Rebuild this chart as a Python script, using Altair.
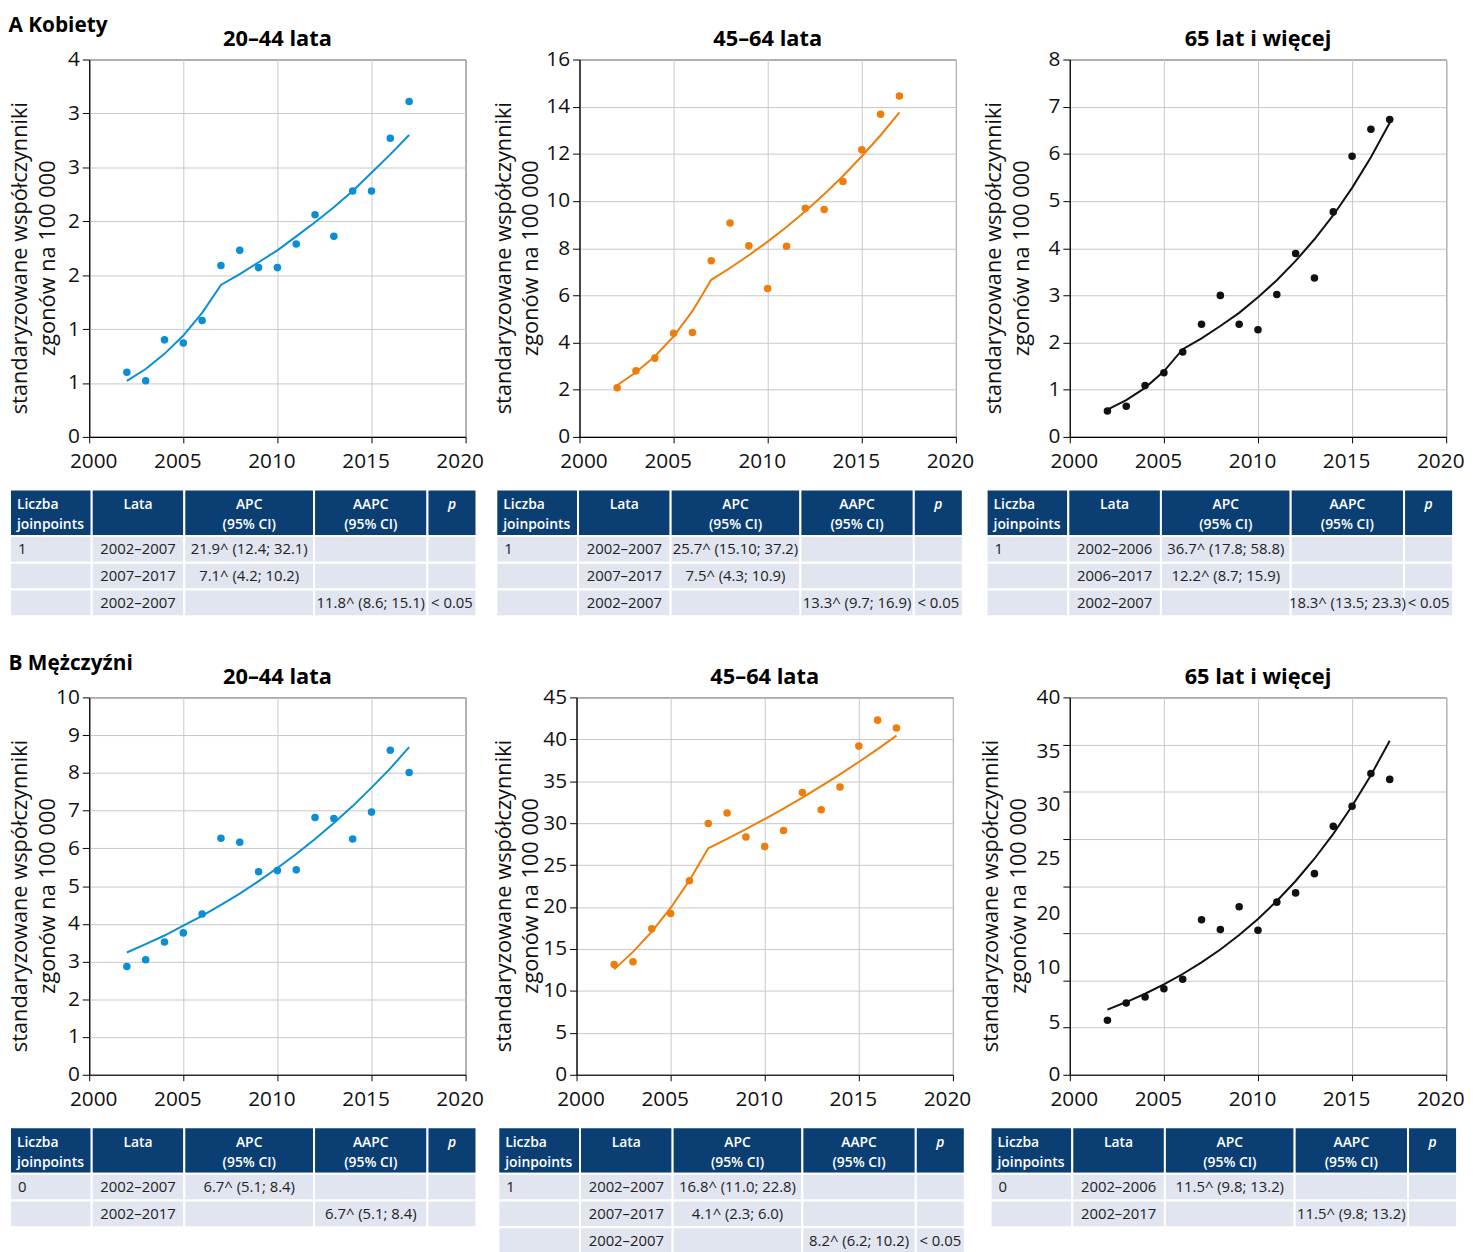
import altair as alt
import pandas as pd

# ---------------- data ----------------
YEARS = list(range(2002, 2018))

# Kobiety (women)
K_2044_OBS = [0.60, 0.52, 0.90, 0.87, 1.08, 1.59, 1.73, 1.57, 1.57, 1.79, 2.06, 1.86, 2.28, 2.28, 2.77, 3.11]
K_2044_FIT = [0.52, 0.63, 0.77, 0.94, 1.15, 1.41, 1.51, 1.62, 1.73, 1.86, 1.99, 2.13, 2.28, 2.45, 2.62, 2.80]
K_4564_OBS = [2.08, 2.80, 3.34, 4.39, 4.43, 7.47, 9.07, 8.10, 6.29, 8.08, 9.69, 9.64, 10.83, 12.17, 13.68, 14.45]
K_4564_FIT = [2.19, 2.74, 3.41, 4.26, 5.33, 6.66, 7.16, 7.70, 8.28, 8.90, 9.57, 10.29, 11.06, 11.90, 12.79, 13.76]
K_65_OBS = [0.55, 0.65, 1.09, 1.36, 1.80, 2.39, 3.00, 2.39, 2.27, 3.02, 3.89, 3.37, 4.77, 5.95, 6.52, 6.73]
K_65_FIT = [0.58, 0.78, 1.04, 1.39, 1.86, 2.09, 2.35, 2.63, 2.96, 3.32, 3.73, 4.19, 4.70, 5.28, 5.93, 6.66]

# Mężczyźni (men)
M_2044_OBS = [2.87, 3.05, 3.52, 3.76, 4.26, 6.27, 6.16, 5.38, 5.41, 5.43, 6.82, 6.79, 6.25, 6.96, 8.60, 8.01]
M_2044_FIT = [3.24, 3.46, 3.69, 3.95, 4.21, 4.50, 4.80, 5.13, 5.48, 5.85, 6.25, 6.67, 7.12, 7.61, 8.12, 8.68]
M_4564_OBS = [13.16, 13.47, 17.40, 19.24, 23.13, 29.96, 31.22, 28.35, 27.21, 29.14, 33.65, 31.61, 34.32, 39.19, 42.29, 41.35]
M_4564_FIT = [12.57, 14.65, 17.07, 19.89, 23.18, 27.01, 28.12, 29.28, 30.49, 31.74, 33.05, 34.41, 35.83, 37.30, 38.84, 40.44]
M_65_OBS = [5.79, 7.61, 8.24, 9.12, 10.13, 16.44, 15.39, 17.81, 15.32, 18.30, 19.28, 21.32, 26.33, 28.47, 31.94, 31.31]
M_65_FIT = [6.91, 7.71, 8.59, 9.58, 10.68, 11.91, 13.28, 14.81, 16.52, 18.42, 20.54, 22.90, 25.54, 28.48, 31.75, 35.41]

PANEL_TITLES = ["20–44 lata", "45–64 lata", "65 lat i więcej"]
ROW_TITLES = ["A Kobiety", "B Mężczyźni"]
Y_TITLE = ["standaryzowane współczynniki", "zgonów na 100 000"]
X_TICKS = [2000, 2005, 2010, 2015, 2020]

HEADER = ["Liczba\njoinpoints", "Lata", "APC\n(95% CI)", "AAPC\n(95% CI)", "p"]
TAB_K_2044 = [["1", "2002–2007", "21.9^ (12.4; 32.1)", "", ""],
              ["", "2007–2017", "7.1^ (4.2; 10.2)", "", ""],
              ["", "2002–2007", "", "11.8^ (8.6; 15.1)", "< 0.05"]]
TAB_K_4564 = [["1", "2002–2007", "25.7^ (15.10; 37.2)", "", ""],
              ["", "2007–2017", "7.5^ (4.3; 10.9)", "", ""],
              ["", "2002–2007", "", "13.3^ (9.7; 16.9)", "< 0.05"]]
TAB_K_65 = [["1", "2002–2006", "36.7^ (17.8; 58.8)", "", ""],
            ["", "2006–2017", "12.2^ (8.7; 15.9)", "", ""],
            ["", "2002–2007", "", "18.3^ (13.5; 23.3)", "< 0.05"]]
TAB_M_2044 = [["0", "2002–2007", "6.7^ (5.1; 8.4)", "", ""],
              ["", "2002–2017", "", "6.7^ (5.1; 8.4)", ""]]
TAB_M_4564 = [["1", "2002–2007", "16.8^ (11.0; 22.8)", "", ""],
              ["", "2007–2017", "4.1^ (2.3; 6.0)", "", ""],
              ["", "2002–2007", "", "8.2^ (6.2; 10.2)", "< 0.05"]]
TAB_M_65 = [["0", "2002–2006", "11.5^ (9.8; 13.2)", "", ""],
            ["", "2002–2017", "", "11.5^ (9.8; 13.2)", ""]]

# ---------------- style ----------------
FONT = "Open Sans"
BLUE = "#0a8fd5"
ORANGE = "#ef7d0a"
BLACK = "#111111"
NAVY = "#0b3f74"
ROWBG = "#e1e5f0"
GRID = "#c8c8c8"
COL_W = [82.5, 93.5, 131, 114.5, 49.5]
HEAD_H = 47
ROW_H = 27
PLOT_W = 380
PLOT_H = 381
TITLE_PAD = 3

# odd tick labels of the men 65+ panel as printed in the source figure
M65_LABEL_TEXT = {15: "20", 20: "25", 25: "30", 30: "35", 35: ""}
M65_LABEL_SHIFT = {5: -5, 10: -13, 15: -20, 20: -28, 25: -35, 30: -41}
X_LABEL_SHIFT = {"condition": {"test": "datum.value == 2000", "value": 4}, "value": -6}


def make_plot(title, obs, fit, color, ymax, ystep, ext, label_expr=None, label_offset=None):
    df = pd.DataFrame({"rok": YEARS, "obs": obs, "fit": fit})
    n = int(round(ymax / ystep))
    yvals = [round(i * ystep, 6) for i in range(n + 1)]
    ykw = dict(values=yvals, title=Y_TITLE, grid=True, gridColor=GRID, gridWidth=1,
               domainColor="#000", domainWidth=1.2, tickColor="#000", tickSize=7,
               labelFont=FONT, labelFontSize=21, labelColor="#111", labelPadding=3,
               labelOverlap=False, titleFont=FONT, titleFontSize=22, titleFontWeight=500,
               titleColor="#111", titleLineHeight=28, titlePadding=TITLE_PAD,
               minExtent=ext, maxExtent=ext, titleY=200)
    if label_expr:
        ykw["labelExpr"] = label_expr
    if label_offset:
        ykw["labelOffset"] = label_offset
    yaxis = alt.Axis(**ykw)
    xaxis = alt.Axis(values=X_TICKS, format="d", title=None, grid=True, gridColor=GRID,
                     domainColor="#000", domainWidth=1.2, tickColor="#000", tickSize=6,
                     labelFont=FONT, labelFontSize=21, labelColor="#111", labelPadding=8,
                     labelFlush=False, labelOverlap=False, labelOffset=X_LABEL_SHIFT)
    xs = alt.Scale(domain=[2000, 2020], nice=False, zero=False)
    ys = alt.Scale(domain=[0, ymax], nice=False, zero=True)
    base = alt.Chart(df)
    line = base.mark_line(color=color, strokeWidth=2).encode(
        x=alt.X("rok:Q", scale=xs, axis=xaxis),
        y=alt.Y("fit:Q", scale=ys, axis=yaxis))
    pts = base.mark_circle(color=color, size=58, opacity=1).encode(
        x=alt.X("rok:Q", scale=xs, axis=xaxis),
        y=alt.Y("obs:Q", scale=ys, axis=yaxis))
    return alt.layer(line, pts).properties(
        width=PLOT_W, height=PLOT_H,
        title=alt.TitleParams(title, anchor="middle", frame="group", baseline="alphabetic",
                              offset=-19, fontSize=22, fontWeight="bold", font=FONT, color="#000"),
        view=alt.ViewBackground(stroke="#333", strokeWidth=1))


def make_table(rows, left):
    edges = [0.0]
    for w in COL_W:
        edges.append(edges[-1] + w)
    tw = edges[-1]
    th = HEAD_H + ROW_H * len(rows)
    recs = []
    for j, h in enumerate(HEADER):
        recs.append(dict(kind="head", col=j, x0=edges[j], x1=edges[j + 1], y0=0, y1=HEAD_H, text=h))
    for i, row in enumerate(rows):
        for j, t in enumerate(row):
            recs.append(dict(kind="body", col=j, x0=edges[j], x1=edges[j + 1],
                             y0=HEAD_H + i * ROW_H, y1=HEAD_H + (i + 1) * ROW_H, text=t))
    df = pd.DataFrame(recs)
    df["tx"] = [r.x0 + 7 if r.col == 0 else (r.x0 + r.x1) / 2 for r in df.itertuples()]
    df["ty"] = [20 if r.kind == "head" else (r.y0 + r.y1) / 2 for r in df.itertuples()]
    # the table starts `left` px before the plot's left edge (under the y-axis title)
    xs = alt.Scale(domain=[left, tw], range=[0, tw - left], nice=False, zero=False)
    ys = alt.Scale(domain=[0, th], nice=False, zero=False, reverse=True)
    base = alt.Chart(df)
    cells = base.mark_rect(stroke="white", strokeWidth=2).encode(
        x=alt.X("x0:Q", scale=xs, axis=None), x2="x1:Q",
        y=alt.Y("y0:Q", scale=ys, axis=None), y2="y1:Q",
        color=alt.Color("kind:N", scale=alt.Scale(domain=["head", "body"], range=[NAVY, ROWBG]), legend=None))
    enc = dict(x=alt.X("tx:Q", scale=xs, axis=None), y=alt.Y("ty:Q", scale=ys, axis=None), text="text:N")
    head_kw = dict(baseline="alphabetic", lineBreak="\n", lineHeight=20, fontSize=14,
                   fontWeight=600, color="white", font=FONT)
    h_left = base.transform_filter("datum.kind == 'head' && datum.col == 0").mark_text(
        align="left", **head_kw).encode(**enc)
    h_mid = base.transform_filter("datum.kind == 'head' && datum.col > 0 && datum.col < 4").mark_text(
        align="center", **head_kw).encode(**enc)
    h_p = base.transform_filter("datum.kind == 'head' && datum.col == 4").mark_text(
        align="center", fontStyle="italic", **head_kw).encode(**enc)
    body_kw = dict(baseline="middle", fontSize=15, color="#222", font=FONT)
    b_left = base.transform_filter("datum.kind == 'body' && datum.col == 0").mark_text(
        align="left", dx=1, **body_kw).encode(**enc)
    b_mid = base.transform_filter("datum.kind == 'body' && datum.col > 0").mark_text(
        align="center", **body_kw).encode(**enc)
    return alt.layer(cells, h_left, h_mid, h_p, b_left, b_mid).properties(
        width=tw - left, height=th, view=alt.ViewBackground(stroke="transparent"))


def panel(title, obs, fit, color, ymax, ystep, rows, ext, left, **kw):
    return alt.vconcat(make_plot(title, obs, fit, color, ymax, ystep, ext, **kw),
                       make_table(rows, left), spacing=15)


def row_title(text):
    return alt.TitleParams(text, anchor="start", baseline="alphabetic", offset=-25.6,
                           fontSize=21, fontWeight="bold", font=FONT, color="#000")


A1_EXPR = "'' + round(datum.value)"
m65_expr = "".join(f"datum.value == {k} ? '{v}' : " for k, v in M65_LABEL_TEXT.items()) + "'' + datum.value"
m65_offset = {"condition": [{"test": f"datum.value == {k}", "value": v} for k, v in M65_LABEL_SHIFT.items()],
              "value": 0}

row_a = alt.hconcat(
    panel(PANEL_TITLES[0], K_2044_OBS, K_2044_FIT, BLUE, 3.5, 0.5, TAB_K_2044, 27, 80, label_expr=A1_EXPR),
    panel(PANEL_TITLES[1], K_4564_OBS, K_4564_FIT, ORANGE, 16, 2, TAB_K_4564, 34, 84),
    panel(PANEL_TITLES[2], K_65_OBS, K_65_FIT, BLACK, 8, 1, TAB_K_65, 34, 84),
    spacing=7,
).properties(title=row_title(ROW_TITLES[0]))

row_b = alt.hconcat(
    panel(PANEL_TITLES[0], M_2044_OBS, M_2044_FIT, BLUE, 10, 1, TAB_M_2044, 27, 80),
    panel(PANEL_TITLES[1], M_4564_OBS, M_4564_FIT, ORANGE, 45, 5, TAB_M_4564, 31, 79),
    panel(PANEL_TITLES[2], M_65_OBS, M_65_FIT, BLACK, 40, 5, TAB_M_65, 37, 80,
          label_expr=m65_expr, label_offset=m65_offset),
    spacing=7,
).properties(title=row_title(ROW_TITLES[1]))

chart = alt.vconcat(row_a, row_b, spacing=35).properties(
    padding={"left": 0, "top": 1, "right": 0, "bottom": 0},
    background="white",
).configure(font=FONT)

chart.save("out.html", embed_options={"renderer": "svg", "actions": False})
